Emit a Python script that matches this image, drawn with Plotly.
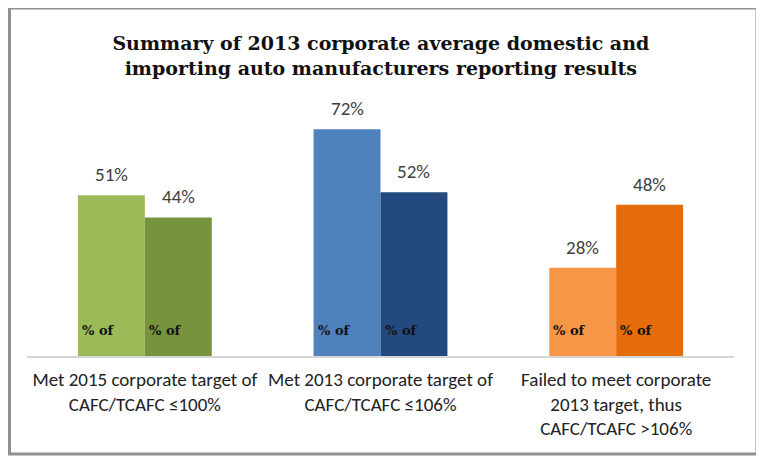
import plotly.graph_objects as go

categories = [
    "Met 2015 corporate target of<br>CAFC/TCAFC ≤100%",
    "Met 2013 corporate target of<br>CAFC/TCAFC ≤106%",
    "Failed to meet corporate<br>2013 target, thus<br>CAFC/TCAFC >106%",
]
series_a = [51, 72, 28]
series_b = [44, 52, 48]
colors_a = ["#9BBB59", "#4F81BD", "#F79646"]
colors_b = ["#77933C", "#23497E", "#E46C0A"]
inner_label = "% of"
title = "Summary of 2013 corporate average domestic and<br>importing auto manufacturers reporting results"

x = list(range(len(categories)))
sans = "Carlito, Liberation Sans Narrow, Liberation Sans, sans-serif"
serif = "DejaVu Serif, serif"
half = 0.142  # half group offset in category units

fig = go.Figure()
fig.add_trace(go.Bar(x=x, y=series_a, marker=dict(color=colors_a, line=dict(width=0))))
fig.add_trace(go.Bar(x=x, y=series_b, marker=dict(color=colors_b, line=dict(width=0))))

for vals, off in ((series_a, -half), (series_b, half)):
    for i, v in zip(x, vals):
        fig.add_annotation(
            x=i + off, y=v, xref="x", yref="y", text=f"{v}%", showarrow=False,
            xanchor="center", yanchor="bottom", yshift=7,
            font=dict(family=sans, size=19, color="#404040"),
        )
        fig.add_annotation(
            x=i + off - half, y=0, xref="x", yref="y", text=inner_label, showarrow=False,
            xanchor="left", yanchor="middle", xshift=2, yshift=26,
            font=dict(family=serif, size=13, color="#111111", weight="bold"),
        )

fig.update_layout(
    width=764, height=460,
    margin=dict(l=19, r=38, t=96, b=112),
    paper_bgcolor="white", plot_bgcolor="white",
    barmode="group", bargap=0.432, bargroupgap=0,
    showlegend=False,
    title=dict(text=title, x=0.488, xanchor="center", y=0.908, yanchor="middle",
               font=dict(family=serif, size=19, color="#111111", weight="bold")),
    xaxis=dict(tickmode="array", tickvals=x, ticktext=categories,
               tickfont=dict(family=sans, size=19, color="#222222"),
               ticklabelstandoff=5,
               showgrid=False, showline=True, linecolor="#D6D6D6", linewidth=2,
               ticks="", range=[-0.5, 2.5]),
    yaxis=dict(range=[0, 80], visible=False),
    shapes=[dict(type="rect", xref="paper", yref="paper",
                 x0=-17.5/707, x1=730/707, y0=-98/252, y1=348/252,
                 line=dict(color="#909090", width=3))],
)

fig.write_html("out.html")
